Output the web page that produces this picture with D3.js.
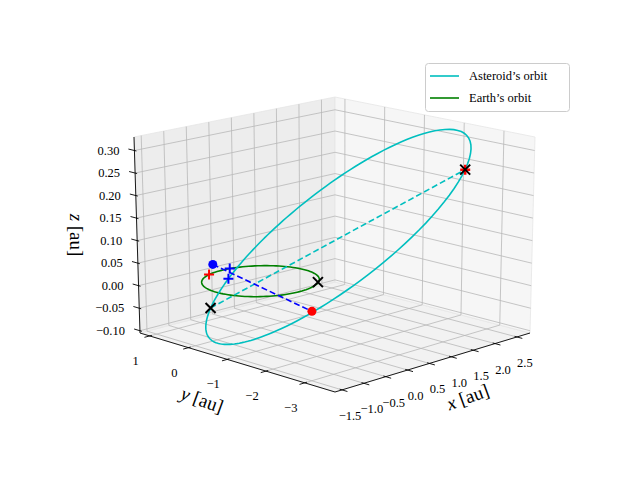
<!DOCTYPE html>
<html><head><meta charset="utf-8">
<script src="https://cdn.jsdelivr.net/npm/d3@7"></script>
<style>body{margin:0;background:#fff}svg{display:block}</style>
</head><body>
<svg id="c" width="640" height="480"></svg>
<script>
// ---- data ----
const xTicks = [-1.5,-1.0,-0.5,0.0,0.5,1.0,1.5,2.0,2.5];
const yTicks = [1,0,-1,-2,-3];
const zTicks = [-0.10,-0.05,0.00,0.05,0.10,0.15,0.20,0.25,0.30];
const xDomain = [-1.66, 2.80];
const yDomain = [-3.78, 1.25];
const zDomain = [-0.105, 0.33];
// asteroid orbit
const astSemiMajor = 2.16;
const astEcc = 0.602;
const astPeriDir = [-0.745, 0.662, -0.068];
const astPerpDir = [0.38, 0.98, -0.138];
const earthRadius = 1.0;
// markers
const perihelion = [-0.64, 0.57, -0.058];
const aphelion = [2.58, -2.29, 0.235];
const earthX = [0.614, -0.778, 0];
const astBlue = [-0.21, 0.98, 0.019];
const astRed = [-0.51, -1.89, -0.009];
const redPlus = [-0.33, 0.945, 0];
const bluePlus = [[0.175, 0.985, 0], [-0.03, 0.79, -0.013]];
const legendLabels = ["Asteroid\u2019s orbit", "Earth\u2019s orbit"];

// ---- projection (trilinear between box corners on screen) ----
const sx = d3.scaleLinear().domain(xDomain).range([0,1]);
const sy = d3.scaleLinear().domain(yDomain).range([0,1]);
const sz = d3.scaleLinear().domain(zDomain).range([0,1]);
const C = {
  "000":[335,392],"100":[530,333],"010":[140,333],"110":[335,282],
  "001":[336,186],"101":[535,137],"011":[134,137],"111":[335,97]};
function P(x,y,z){
  const u=sx(x), v=sy(y), w=sz(z);
  let X=0,Y=0;
  for(const a of [0,1])for(const b of [0,1])for(const c of [0,1]){
    const wt=(a?u:1-u)*(b?v:1-v)*(c?w:1-w);
    const p=C[""+a+b+c]; X+=wt*p[0]; Y+=wt*p[1];
  }
  return [X,Y];
}
const svg=d3.select("#c");
const line=d3.line().x(d=>P(...d)[0]).y(d=>P(...d)[1]);
const [x0,x1]=xDomain,[y0,y1]=yDomain,[z0,z1]=zDomain;

const pane=(pts,fill)=>svg.append("path").attr("d",line(pts)+"Z").attr("fill",fill).attr("stroke","#e6e6e6").attr("stroke-width",0.8);
pane([[x0,y0,z0],[x1,y0,z0],[x1,y1,z0],[x0,y1,z0]],"#f2f2f2");
pane([[x0,y1,z0],[x1,y1,z0],[x1,y1,z1],[x0,y1,z1]],"#ededed");
pane([[x1,y0,z0],[x1,y1,z0],[x1,y1,z1],[x1,y0,z1]],"#f6f6f6");
const g=svg.append("g").attr("stroke","#b8b8b8").attr("stroke-width",0.8).attr("fill","none");
xTicks.forEach(t=>{g.append("path").attr("d",line([[t,y0,z0],[t,y1,z0],[t,y1,z1]]));});
yTicks.forEach(t=>{g.append("path").attr("d",line([[x0,t,z0],[x1,t,z0],[x1,t,z1]]));});
zTicks.forEach(t=>{g.append("path").attr("d",line([[x0,y1,t],[x1,y1,t],[x1,y0,t]]));});
const ax=svg.append("g").attr("stroke","#000").attr("stroke-width",0.9).attr("fill","none");
ax.append("path").attr("d",line([[x0,y0,z0],[x1,y0,z0]]));
ax.append("path").attr("d",line([[x0,y0,z0],[x0,y1,z0]]));
ax.append("path").attr("d",line([[x0,y1,z0],[x0,y1,z1]]));
const fmt2=d3.format(".2f"), fmt1=d3.format(".1f");
const minus=s=>s.replace("-","\u2212");
const tf="'Liberation Serif','DejaVu Serif',serif";
xTicks.forEach(t=>{
  ax.append("path").attr("d",line([[t,y0+0.06,z0],[t,y0-0.14,z0]]));
  const p=P(t,y0,z0);
  svg.append("text").attr("x",p[0]+8).attr("y",p[1]+30).attr("text-anchor","middle")
    .attr("font-family",tf).attr("font-size",12.5).text(minus(fmt1(t)));
});
yTicks.forEach(t=>{
  ax.append("path").attr("d",line([[x0+0.05,t,z0],[x0-0.12,t,z0]]));
  const p=P(x0,t,z0);
  svg.append("text").attr("x",p[0]-14).attr("y",p[1]+29).attr("text-anchor","middle")
    .attr("font-family",tf).attr("font-size",12.5).text(minus(d3.format("d")(t)));
});
zTicks.forEach(t=>{
  ax.append("path").attr("d",line([[x0,y1-0.05,t],[x0,y1+0.15,t]]));
  const p=P(x0,y1,t);
  svg.append("text").attr("x",p[0]-15).attr("y",p[1]+4).attr("text-anchor","end")
    .attr("font-family",tf).attr("font-size",12.5).text(minus(fmt2(t)));
});
function axLabel(x,y,rot,v){
  const t=svg.append("text").attr("transform",`translate(${x},${y}) rotate(${rot})`)
    .attr("text-anchor","middle").attr("font-family",tf).attr("font-size",19);
  t.append("tspan").attr("font-style","italic").text(v);
  t.append("tspan").text(" [au]");
}
axLabel(470,403,-20,"x");
axLabel(200,406,20,"y");
axLabel(70,235,90,"z");

const earthPts=d3.range(0,361,3).map(d=>{const a=d*Math.PI/180;return [earthRadius*Math.cos(a),earthRadius*Math.sin(a),0];});
const pLat=astSemiMajor*(1-astEcc*astEcc);
const astPts=d3.range(0,361,2).map(d=>{const n=d*Math.PI/180;const r=pLat/(1+astEcc*Math.cos(n));
  const c=r*Math.cos(n), s=r*Math.sin(n);
  return [0,1,2].map(i=>c*astPeriDir[i]+s*astPerpDir[i]);});
svg.append("path").attr("d",line(earthPts)).attr("fill","none").attr("stroke","#008000").attr("stroke-width",1.6);
svg.append("path").attr("d",line(astPts)).attr("fill","none").attr("stroke","#00bfbf").attr("stroke-width",1.6);
svg.append("path").attr("d",line([perihelion,aphelion])).attr("fill","none").attr("stroke","#00bfbf").attr("stroke-width",1.6).attr("stroke-dasharray","6,3");
svg.append("path").attr("d",line([astBlue,astRed])).attr("fill","none").attr("stroke","#0000ff").attr("stroke-width",1.6).attr("stroke-dasharray","6,3");
function cross(p,col,type,s,w){
  const [X,Y]=P(...p);
  const d=type==="x"?`M${X-s},${Y-s}L${X+s},${Y+s}M${X-s},${Y+s}L${X+s},${Y-s}`:`M${X-s},${Y}L${X+s},${Y}M${X},${Y-s}L${X},${Y+s}`;
  svg.append("path").attr("d",d).attr("stroke",col).attr("stroke-width",w).attr("fill","none");
}
function dot(p,col){const [X,Y]=P(...p);svg.append("circle").attr("cx",X).attr("cy",Y).attr("r",4.5).attr("fill",col);}
cross(redPlus,"#ff0000","+",5,2);
bluePlus.forEach(p=>cross(p,"#0000ff","+",5,2));
cross(aphelion,"#ff0000","+",5,2.5);
cross(perihelion,"#000","x",5,2);
cross(earthX,"#000","x",5,2);
cross(aphelion,"#000","x",5,2);
dot(astBlue,"#0000ff");
dot(astRed,"#ff0000");

const lg=svg.append("g");
lg.append("rect").attr("x",425.5).attr("y",63.5).attr("width",144).attr("height",48).attr("rx",3)
  .attr("fill","#fff").attr("fill-opacity",0.8).attr("stroke","#ccc");
[["#00bfbf",76],["#008000",98]].forEach((c,i)=>{
  lg.append("line").attr("x1",430).attr("x2",459).attr("y1",c[1]).attr("y2",c[1]).attr("stroke",c[0]).attr("stroke-width",1.6);
  lg.append("text").attr("x",469).attr("y",c[1]+4).attr("font-family",tf).attr("font-size",12.5).text(legendLabels[i]);
});
</script>
</body></html>
